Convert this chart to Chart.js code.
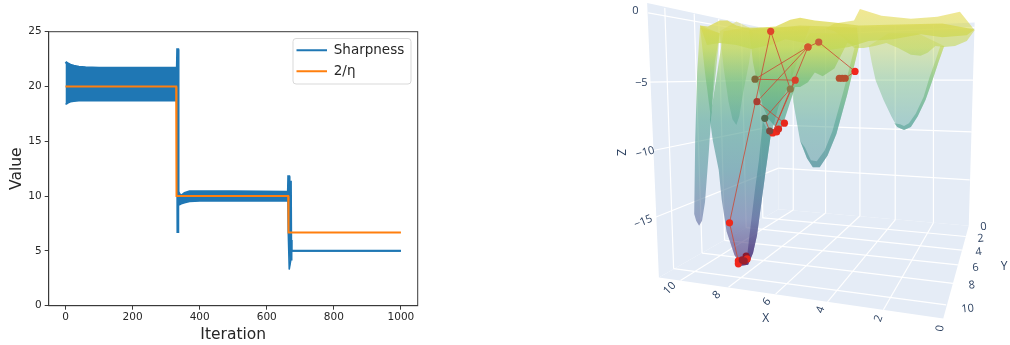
<!DOCTYPE html>
<html>
<head>
<meta charset="utf-8">
<style>
  html, body { margin: 0; padding: 0; background: #fff; width: 1010px; height: 345px; overflow: hidden; }
  #lossBox { position: absolute; left: 0; top: 0; width: 430px; height: 345px; }
  #sceneBox { position: absolute; left: 600px; top: 0; width: 410px; height: 345px; }
</style>
<script src="https://cdn.jsdelivr.net/npm/chart.js@4/dist/chart.umd.min.js"></script>
</head>
<body>
<div id="lossBox"><canvas id="lossChart"></canvas></div>
<div id="sceneBox"><canvas id="sceneChart"></canvas></div>
<script>
// ==================== LEFT CHART DATA ====================
const sharpIter  = [0, 3, 8, 15, 25, 40, 60, 100, 200, 329, 332, 333, 336, 337, 340, 345, 355, 370, 400, 500, 660, 663, 664, 667, 668, 672, 673, 674, 675, 680, 1000];
const sharpUpper = [22.1, 22.2, 22.1, 22.0, 21.9, 21.8, 21.75, 21.7, 21.7, 21.7, 21.7, 23.4, 23.4, 10.4, 10.2, 10.05, 10.3, 10.45, 10.45, 10.45, 10.4, 10.4, 11.8, 11.8, 11.3, 11.3, 6, 5.02, 5.02, 5.02, 5.02];
const sharpLower = [18.4, 18.4, 18.5, 18.6, 18.65, 18.7, 18.7, 18.7, 18.7, 18.7, 18.7, 6.7, 6.7, 9.2, 9.2, 9.3, 9.4, 9.5, 9.55, 9.55, 9.55, 9.55, 6.7, 3.3, 3.3, 4.2, 4.2, 4.2, 4.98, 4.98, 4.98];
const etaIter = [0, 330, 331, 664, 665, 1000];
const etaLine = [20, 20, 10, 10, 6.67, 6.67];
const iterTicks = [0, 200, 400, 600, 800, 1000];

// ==================== RIGHT CHART DATA ====================
const leftWallX = [644, 778, 778, 656];
const leftWallY = [-1, 28, 210, 280];
const backWallX = [778, 978, 972, 778];
const backWallY = [28, 19, 227, 210];
const floorX = [656, 778, 972, 946];
const floorY = [280, 210, 227, 322];

// white scene grid: start and end of every line
const gridStartX = [645, 645, 650, 653, 778, 778, 778, 778, 662, 692, 717, 740, 758, 793, 826, 861, 897, 936, 678, 727, 775, 828, 885, 671, 700, 723, 745, 762];
const gridStartY = [9, 80, 150, 218, 33, 78, 124, 168, 4, 10, 15, 20, 24, 25, 24, 23, 22, 21, 283, 290, 297, 305, 313, 271, 255, 242, 229, 219];
const gridEndX   = [778, 778, 778, 778, 978, 977, 975, 973, 671, 700, 723, 745, 762, 793, 826, 861, 897, 936, 793, 826, 861, 897, 936, 949, 956, 961, 965, 969];
const gridEndY   = [33, 78, 124, 168, 24, 78, 131, 180, 271, 255, 242, 229, 219, 211, 214, 217, 221, 224, 211, 214, 217, 221, 224, 308, 286, 267, 252, 238];

// surface pieces, back to front
const wellFarX = [870, 873, 877, 885, 893, 899, 906, 913, 920, 928, 935, 941, 947, 920, 890];
const wellFarY = [43, 60, 78, 98, 115, 126, 129, 126, 115, 98, 78, 60, 43, 30, 30];
const rimFarX = [947, 941, 935, 928, 920, 913, 906, 899, 896, 902, 906, 911, 918, 926, 932, 938, 943];
const rimFarY = [43, 60, 78, 98, 115, 126, 129, 126, 122, 123, 125, 122, 112, 95, 75, 58, 43];
const wellMidX = [790, 793, 800, 807, 813, 820, 828, 837, 848, 860, 840, 810];
const wellMidY = [60, 100, 140, 158, 167, 167, 155, 133, 93, 43, 30, 30];
const rimMidX = [860, 848, 837, 828, 820, 813, 807, 800, 805, 811, 817, 825, 833, 844, 856];
const rimMidY = [43, 93, 133, 155, 167, 167, 158, 140, 147, 160, 161, 150, 130, 90, 43];
const bandBackX = [861, 883, 913, 940, 963, 971, 978, 970, 958, 947, 938, 930, 923, 913, 900, 888, 876, 865, 855, 845, 835, 826, 835, 855];
const bandBackY = [5, 12, 15, 13, 8, 18, 27, 38, 43, 44, 43, 50, 53, 52, 45, 40, 43, 45, 45, 35, 28, 25, 20, 17];
const wellSlimX = [698, 695, 693, 692, 694, 697, 700, 703, 707, 709, 713, 718];
const wellSlimY = [22, 70, 140, 215, 222, 227, 222, 203, 150, 120, 60, 30];
const wedgeX = [698, 703, 709, 714, 718];
const wedgeY = [24, 70, 117, 70, 30];
const lensX = [718, 722, 727, 731, 735, 738, 742, 748, 752, 748, 735];
const lensY = [28, 65, 100, 118, 124, 115, 90, 60, 30, 24, 18];
const wellBigX = [708, 711, 717, 720, 725, 733, 740, 747, 752, 756, 761, 765, 770, 778, 790, 800, 810, 775, 745, 722];
const wellBigY = [118, 140, 170, 200, 233, 257, 268, 267, 255, 237, 200, 170, 135, 105, 80, 50, 23, 24, 24, 28];
const rimBigX = [770, 765, 761, 756, 752, 747, 740, 736, 742, 746, 748, 751, 754, 758, 762];
const rimBigY = [135, 170, 200, 237, 255, 267, 268, 262, 265, 258, 240, 215, 190, 160, 120];
const greenX = [748, 752, 757, 762, 768, 775, 782, 790, 795, 800, 808, 815, 823, 835, 848, 860, 858, 800];
const greenY = [27, 60, 85, 105, 118, 126, 125, 100, 85, 85, 80, 70, 74, 66, 40, 43, 24, 22];
const bandTopX = [698, 706, 718, 726, 735, 748, 762, 775, 790, 800, 815, 835, 860, 900, 945, 978, 970, 945, 923, 895, 870, 850, 830, 805, 785, 770, 750, 735, 718, 705];
const bandTopY = [22, 23, 17, 17, 22, 25, 24, 23, 16, 14, 17, 19, 22, 21, 20, 26, 32, 34, 31, 36, 38, 44, 47, 40, 36, 42, 46, 42, 40, 42];

// optimizer path, in the order the steps are joined
const pathX = [840, 843, 846, 856, 819, 808, 754, 795, 772, 808, 756, 784, 776, 778, 769, 764, 790, 770, 728, 737, 737, 741, 745, 746, 743];
const pathY = [76, 76, 76, 69, 39, 44, 77, 78, 132, 44, 100, 122, 131, 128, 130, 117, 87, 28, 224, 263, 266, 262, 258, 261, 263];
const pathDots = ['#b4502f', '#b4502f', '#b4502f', '#f0261c', '#c8603a', '#d4552f', '#7d6a3a', '#d8402a', '#ee2a1c', '#d4552f', '#a83e30', '#e8281c', '#ee2a1c', '#d82c22', '#7a4a40', '#4f6a50', '#8a7a48', '#e0452a', '#ee2a1c', '#f0261c', '#f0261c', '#9c1f2c', '#8a1a30', '#e8281c', '#9c1f2c'];
const zTickLabels = ['0', '\u22125', '\u221210', '\u221215'];
const zTickX = [632, 638, 642, 640];
const zTickY = [7, 81, 152, 223];
const zTickTurn = [0, 0, -14, -22];
const xTickLabels = ['10', '8', '6', '4', '2', '0'];
const xTickX = [667, 715, 766, 821, 880, 943];
const xTickY = [291, 298, 305, 313, 322, 332];
const xTickTurn = [-45, -45, -50, -70, -70, -80];
const yTickLabels = ['0', '2', '4', '6', '8', '10'];
const yTickX = [987, 984, 982, 979, 975, 971];
const yTickY = [228, 240, 254, 270, 288, 312];
const axisTitles = ['X', 'Y', 'Z'];
const axisTitleX = [765, 1008, 617];
const axisTitleY = [322, 269, 152];
const axisTitleTurn = [0, 0, 90];

// ==================== HELPERS ====================
function zip(xs, ys) {
  return xs.map((x, i) => ({ x: x, y: ys[i] }));
}

// height colours of the surface, top to bottom of the scene
const surfaceStopY = [8, 45, 80, 120, 170, 220, 270];
const surfaceStopColor = ['#e6d84a', '#c2d858', '#74bd78', '#52a392', '#4f8f9a', '#5f6fa0', '#46206f'];

const polygonPlugin = {
  id: 'polygonPlugin',
  beforeDatasetDraw(chart, args) {
    const ds = chart.data.datasets[args.index];
    if (!ds.polygon) return;
    const ctx = chart.ctx;
    const pts = args.meta.data;
    ctx.save();
    ctx.beginPath();
    pts.forEach((p, i) => (i ? ctx.lineTo(p.x, p.y) : ctx.moveTo(p.x, p.y)));
    ctx.closePath();
    if (ds.polygon === 'surface') {
      const yScale = chart.scales.y;
      const grad = ctx.createLinearGradient(0, yScale.getPixelForValue(surfaceStopY[0]), 0, yScale.getPixelForValue(surfaceStopY[6]));
      surfaceStopY.forEach((v, i) => grad.addColorStop((v - surfaceStopY[0]) / (surfaceStopY[6] - surfaceStopY[0]), surfaceStopColor[i]));
      ctx.fillStyle = grad;
      ctx.globalAlpha = ds.surfaceAlpha;
    } else {
      ctx.fillStyle = ds.wallColor;
    }
    ctx.fill();
    ctx.restore();
  }
};

const sceneTextPlugin = {
  id: 'sceneTextPlugin',
  afterDraw(chart) {
    const ctx = chart.ctx;
    const put = (txt, x, y, turn, size) => {
      ctx.save();
      ctx.translate(chart.scales.x.getPixelForValue(x), chart.scales.y.getPixelForValue(y));
      ctx.rotate(turn * Math.PI / 180);
      ctx.font = size + 'px "Open Sans"';
      ctx.fillStyle = '#2a3f5f';
      ctx.textAlign = 'center';
      ctx.textBaseline = 'middle';
      ctx.fillText(txt, 0, 0);
      ctx.restore();
    };
    zTickLabels.forEach((t, i) => put(t, zTickX[i], zTickY[i], zTickTurn[i], 11));
    xTickLabels.forEach((t, i) => put(t, xTickX[i], xTickY[i], xTickTurn[i], 11));
    yTickLabels.forEach((t, i) => put(t, yTickX[i], yTickY[i], -6, 11));
    axisTitles.forEach((t, i) => put(t, axisTitleX[i], axisTitleY[i], axisTitleTurn[i], 12));
  }
};

const axesFramePlugin = {
  id: 'axesFramePlugin',
  beforeDraw(chart) {
    const ctx = chart.ctx;
    ctx.save();
    ctx.strokeStyle = '#d9d9d9';
    ctx.lineWidth = 1;
    ctx.beginPath();
    ctx.roundRect(293, 38.5, 118, 45.5, 3);
    ctx.stroke();
    ctx.restore();
  },
  afterDatasetsDraw(chart) {
    const a = chart.chartArea;
    const ctx = chart.ctx;
    ctx.save();
    ctx.strokeStyle = '#3a3a3a';
    ctx.lineWidth = 1;
    ctx.strokeRect(a.left, a.top, a.right - a.left, a.bottom - a.top);
    ctx.restore();
  },
  afterLayout(chart) {
    chart.legend.left = 289;
    chart.legend.top = 36;
  }
};

// ==================== LEFT CHART ====================
new Chart(document.getElementById('lossChart'), {
  type: 'scatter',
  data: {
    datasets: [
      { label: 'Sharpness', data: zip(sharpIter, sharpUpper), showLine: true, borderColor: '#1f77b4', backgroundColor: '#1f77b4', borderWidth: 2, pointRadius: 0, fill: 1, order: 2 },
      { data: zip(sharpIter, sharpLower), showLine: true, borderColor: '#1f77b4', borderWidth: 1.5, pointRadius: 0, order: 3 },
      { label: '2/\u03b7', data: zip(etaIter, etaLine), showLine: true, borderColor: '#ff7f0e', backgroundColor: '#ff7f0e', borderWidth: 2, pointRadius: 0, order: 1 }
    ]
  },
  options: {
    responsive: true,
    maintainAspectRatio: false,
    animation: false,
    layout: { padding: { top: 31.7, right: 12.3 } },
    plugins: {
      tooltip: { enabled: false },
      legend: {
        position: 'chartArea',
        align: 'start',
        labels: {
          filter: item => !!item.text,
          sort: (a, b) => a.datasetIndex - b.datasetIndex,
          usePointStyle: true,
          pointStyle: 'line',
          pointStyleWidth: 30.5,
          boxHeight: 8,
          padding: 7.5,
          color: '#262626',
          font: { family: '"DejaVu Sans"', size: 13.5 }
        }
      }
    },
    scales: {
      x: {
        type: 'linear', min: -50, max: 1050,
        afterBuildTicks: s => { s.ticks = iterTicks.map(v => ({ value: v })); },
        afterFit: s => { s.height = 39.3; },
        grid: { drawOnChartArea: false, tickLength: 4, tickColor: '#3a3a3a' },
        border: { color: '#3a3a3a' },
        ticks: { color: '#262626', font: { family: '"DejaVu Sans"', size: 10.5 }, maxRotation: 0, padding: 1, callback: v => String(v) },
        title: { display: true, text: 'Iteration', color: '#262626', font: { family: '"DejaVu Sans"', size: 15.5 }, padding: { top: 1, bottom: 1 } }
      },
      y: {
        type: 'linear', min: 0, max: 25,
        afterFit: s => { s.width = 48.7; },
        grid: { drawOnChartArea: false, tickLength: 4, tickColor: '#3a3a3a' },
        border: { color: '#3a3a3a' },
        ticks: { stepSize: 5, color: '#262626', font: { family: '"DejaVu Sans"', size: 10.5 }, padding: 3 },
        title: { display: true, text: 'Value', color: '#262626', font: { family: '"DejaVu Sans"', size: 15.5 }, padding: { top: 8, bottom: 0 } }
      }
    }
  },
  plugins: [axesFramePlugin]
});

// ==================== RIGHT CHART ====================
const sceneSets = [];
function addWall(xs, ys) {
  sceneSets.push({ data: zip(xs, ys), polygon: 'wall', wallColor: '#e5ecf6', showLine: false, pointRadius: 0 });
}
function addSurface(xs, ys, alpha) {
  sceneSets.push({ data: zip(xs, ys), polygon: 'surface', surfaceAlpha: alpha, showLine: false, pointRadius: 0 });
}

addWall(leftWallX, leftWallY);
addWall(backWallX, backWallY);
addWall(floorX, floorY);
gridStartX.forEach((x, i) => {
  sceneSets.push({ data: [{ x: x, y: gridStartY[i] }, { x: gridEndX[i], y: gridEndY[i] }], showLine: true, borderColor: '#ffffff', borderWidth: 1.2, pointRadius: 0 });
});
addSurface(wellFarX, wellFarY, 0.42);
addSurface(rimFarX, rimFarY, 0.55);
addSurface(wellMidX, wellMidY, 0.5);
addSurface(rimMidX, rimMidY, 0.55);
addSurface(bandBackX, bandBackY, 0.6);
addSurface(wellSlimX, wellSlimY, 0.6);
addSurface(wedgeX, wedgeY, 0.6);
addSurface(wellBigX, wellBigY, 0.62);
addSurface(lensX, lensY, 0.45);
addSurface(rimBigX, rimBigY, 0.65);
addSurface(greenX, greenY, 0.72);
addSurface(bandTopX, bandTopY, 0.75);
sceneSets.push({
  data: zip(pathX, pathY), showLine: true, borderColor: 'rgba(205,70,50,0.8)', borderWidth: 1,
  pointRadius: 3.6, pointBackgroundColor: pathDots, pointBorderWidth: 0
});
sceneSets.forEach((s, i) => { s.order = sceneSets.length - i; });

new Chart(document.getElementById('sceneChart'), {
  type: 'scatter',
  data: { datasets: sceneSets },
  options: {
    responsive: true,
    maintainAspectRatio: false,
    animation: false,
    layout: { padding: 0 },
    plugins: { legend: { display: false }, tooltip: { enabled: false } },
    scales: {
      x: { type: 'linear', min: 600, max: 1010, display: false },
      y: { type: 'linear', min: 0, max: 345, reverse: true, display: false }
    }
  },
  plugins: [polygonPlugin, sceneTextPlugin]
});
</script>
</body>
</html>
